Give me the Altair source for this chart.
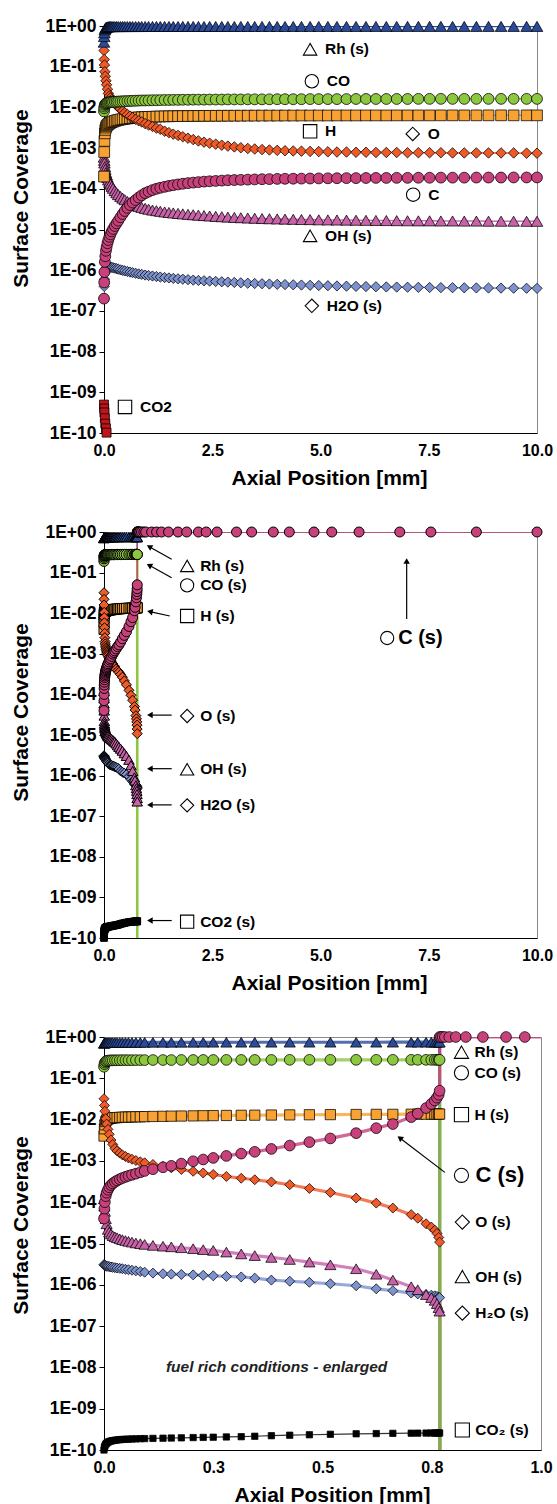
import altair as alt
import pandas as pd

FONT = "Liberation Sans"

# ------------------------------------------------------------------
# Panel 1 : axial profiles, x in mm, surface coverages
# ------------------------------------------------------------------
x1 = [0, 0.005, 0.01, 0.02, 0.03, 0.045, 0.06, 0.08, 0.1, 0.125,
      0.15, 0.18, 0.21, 0.25, 0.29, 0.33, 0.38, 0.43, 0.48, 0.54,
      0.6, 0.66, 0.73, 0.8, 0.87, 0.95, 1.03, 1.12, 1.21, 1.3,
      1.4, 1.5, 1.6, 1.71, 1.82, 1.94, 2.06, 2.18, 2.31, 2.44,
      2.58, 2.72, 2.86, 3.01, 3.16, 3.32, 3.48, 3.65, 3.82, 4.0,
      4.18, 4.37, 4.56, 4.76, 4.96, 5.17, 5.38, 5.6, 5.82, 6.05,
      6.28, 6.52, 6.76, 7.01, 7.26, 7.52, 7.78, 8.05, 8.32, 8.6,
      8.88, 9.17, 9.46, 9.76, 10.0]

rh1 = [0.40, 0.55, 0.68, 0.80, 0.87, 0.91, 0.935, 0.95, 0.96, 0.965,
       0.967, 0.968, 0.968, 0.969, 0.969, 0.970, 0.970, 0.970, 0.971, 0.971,
       0.971, 0.972, 0.972, 0.972, 0.972, 0.973, 0.973, 0.973, 0.973, 0.973,
       0.974, 0.974, 0.974, 0.974, 0.974, 0.974, 0.975, 0.975, 0.975, 0.975,
       0.975, 0.975, 0.975, 0.976, 0.976, 0.976, 0.976, 0.976, 0.976, 0.976,
       0.976, 0.976, 0.977, 0.977, 0.977, 0.977, 0.977, 0.977, 0.977, 0.977,
       0.977, 0.977, 0.977, 0.978, 0.978, 0.978, 0.978, 0.978, 0.978, 0.978,
       0.978, 0.978, 0.978, 0.978, 0.978]

co1 = [8.0e-3, 9.5e-3, 1.05e-2, 1.15e-2, 1.2e-2, 1.25e-2, 1.28e-2, 1.3e-2, 1.32e-2, 1.33e-2,
       1.34e-2, 1.35e-2, 1.36e-2, 1.37e-2, 1.38e-2, 1.39e-2, 1.40e-2, 1.41e-2, 1.42e-2, 1.43e-2,
       1.44e-2, 1.45e-2, 1.46e-2, 1.47e-2, 1.48e-2, 1.48e-2, 1.49e-2, 1.50e-2, 1.50e-2, 1.51e-2,
       1.52e-2, 1.52e-2, 1.53e-2, 1.53e-2, 1.54e-2, 1.54e-2, 1.55e-2, 1.55e-2, 1.55e-2, 1.56e-2,
       1.56e-2, 1.56e-2, 1.57e-2, 1.57e-2, 1.57e-2, 1.58e-2, 1.58e-2, 1.58e-2, 1.58e-2, 1.59e-2,
       1.59e-2, 1.59e-2, 1.59e-2, 1.60e-2, 1.60e-2, 1.60e-2, 1.60e-2, 1.60e-2, 1.61e-2, 1.61e-2,
       1.61e-2, 1.61e-2, 1.61e-2, 1.61e-2, 1.62e-2, 1.62e-2, 1.62e-2, 1.62e-2, 1.62e-2, 1.62e-2,
       1.62e-2, 1.62e-2, 1.62e-2, 1.62e-2, 1.62e-2]

h1 = [2.0e-4, 8.0e-4, 1.5e-3, 2.3e-3, 2.8e-3, 3.2e-3, 3.5e-3, 3.7e-3, 3.9e-3, 4.05e-3,
      4.2e-3, 4.35e-3, 4.5e-3, 4.65e-3, 4.8e-3, 4.9e-3, 5.05e-3, 5.15e-3, 5.25e-3, 5.35e-3,
      5.45e-3, 5.55e-3, 5.62e-3, 5.68e-3, 5.74e-3, 5.8e-3, 5.85e-3, 5.9e-3, 5.94e-3, 5.98e-3,
      6.02e-3, 6.05e-3, 6.08e-3, 6.1e-3, 6.12e-3, 6.14e-3, 6.16e-3, 6.18e-3, 6.2e-3, 6.21e-3,
      6.22e-3, 6.23e-3, 6.24e-3, 6.25e-3, 6.26e-3, 6.27e-3, 6.28e-3, 6.29e-3, 6.3e-3, 6.3e-3,
      6.31e-3, 6.31e-3, 6.32e-3, 6.32e-3, 6.33e-3, 6.33e-3, 6.34e-3, 6.34e-3, 6.34e-3, 6.35e-3,
      6.35e-3, 6.35e-3, 6.36e-3, 6.36e-3, 6.36e-3, 6.36e-3, 6.37e-3, 6.37e-3, 6.37e-3, 6.37e-3,
      6.38e-3, 6.38e-3, 6.38e-3, 6.38e-3, 6.38e-3]

o1 = [0.25, 0.15, 0.11, 0.075, 0.058, 0.045, 0.036, 0.028, 0.022, 0.019,
      0.017, 0.0155, 0.014, 0.0125, 0.0112, 0.0101, 0.0091, 0.0082, 0.0074, 0.0067,
      0.0061, 0.0056, 0.0051, 0.0047, 0.0044, 0.0040, 0.0037, 0.0034, 0.0031, 0.0029,
      0.0026, 0.0024, 0.0022, 0.00205, 0.0019, 0.00175, 0.00162, 0.0015, 0.0014, 0.00132,
      0.00125, 0.00118, 0.00112, 0.00107, 0.00102, 0.00098, 0.00095, 0.00092, 0.0009, 0.00088,
      0.00086, 0.00085, 0.00084, 0.00083, 0.00082, 0.00081, 0.0008, 0.0008, 0.00079, 0.00079,
      0.00078, 0.00078, 0.00078, 0.00077, 0.00077, 0.00077, 0.00077, 0.00076, 0.00076, 0.00076,
      0.00076, 0.00076, 0.00076, 0.00075, 0.00075]

c1 = [2e-7, 5e-7, 9e-7, 1.6e-6, 2.2e-6, 3.0e-6, 3.7e-6, 4.6e-6, 5.5e-6, 6.6e-6,
      7.6e-6, 9.0e-6, 1.03e-5, 1.22e-5, 1.42e-5, 1.65e-5, 2.0e-5, 2.4e-5, 2.85e-5, 3.4e-5,
      4.0e-5, 4.6e-5, 5.3e-5, 6.1e-5, 6.9e-5, 7.8e-5, 8.5e-5, 9.3e-5, 1.0e-4, 1.06e-4,
      1.12e-4, 1.18e-4, 1.23e-4, 1.28e-4, 1.33e-4, 1.38e-4, 1.42e-4, 1.46e-4, 1.5e-4, 1.53e-4,
      1.56e-4, 1.59e-4, 1.62e-4, 1.64e-4, 1.66e-4, 1.68e-4, 1.7e-4, 1.72e-4, 1.73e-4, 1.75e-4,
      1.76e-4, 1.77e-4, 1.78e-4, 1.79e-4, 1.8e-4, 1.81e-4, 1.82e-4, 1.83e-4, 1.83e-4, 1.84e-4,
      1.85e-4, 1.85e-4, 1.86e-4, 1.86e-4, 1.87e-4, 1.87e-4, 1.88e-4, 1.88e-4, 1.88e-4, 1.89e-4,
      1.89e-4, 1.89e-4, 1.9e-4, 1.9e-4, 1.9e-4]

oh1 = [6e-4, 5e-4, 4.3e-4, 3.5e-4, 3e-4, 2.5e-4, 2.2e-4, 1.9e-4, 1.65e-4, 1.45e-4,
       1.3e-4, 1.15e-4, 1.03e-4, 9e-5, 8e-5, 7.2e-5, 6.5e-5, 5.9e-5, 5.4e-5, 4.9e-5,
       4.5e-5, 4.2e-5, 3.9e-5, 3.7e-5, 3.5e-5, 3.3e-5, 3.15e-5, 3.0e-5, 2.9e-5, 2.8e-5,
       2.7e-5, 2.62e-5, 2.55e-5, 2.48e-5, 2.42e-5, 2.36e-5, 2.3e-5, 2.25e-5, 2.2e-5, 2.15e-5,
       2.1e-5, 2.06e-5, 2.02e-5, 1.98e-5, 1.95e-5, 1.92e-5, 1.89e-5, 1.86e-5, 1.84e-5, 1.82e-5,
       1.8e-5, 1.78e-5, 1.76e-5, 1.75e-5, 1.73e-5, 1.72e-5, 1.71e-5, 1.7e-5, 1.69e-5, 1.68e-5,
       1.67e-5, 1.66e-5, 1.65e-5, 1.64e-5, 1.63e-5, 1.63e-5, 1.62e-5, 1.62e-5, 1.61e-5, 1.61e-5,
       1.6e-5, 1.6e-5, 1.6e-5, 1.59e-5, 1.59e-5]

h2o1 = [2e-7, 4e-7, 6e-7, 8.5e-7, 1.0e-6, 1.1e-6, 1.15e-6, 1.18e-6, 1.2e-6, 1.2e-6,
        1.19e-6, 1.17e-6, 1.15e-6, 1.12e-6, 1.09e-6, 1.06e-6, 1.02e-6, 9.9e-7, 9.6e-7, 9.3e-7,
        9.0e-7, 8.7e-7, 8.4e-7, 8.1e-7, 7.9e-7, 7.6e-7, 7.4e-7, 7.2e-7, 7.0e-7, 6.8e-7,
        6.6e-7, 6.45e-7, 6.3e-7, 6.15e-7, 6.0e-7, 5.85e-7, 5.7e-7, 5.6e-7, 5.5e-7, 5.4e-7,
        5.3e-7, 5.2e-7, 5.1e-7, 5.0e-7, 4.9e-7, 4.8e-7, 4.72e-7, 4.65e-7, 4.58e-7, 4.5e-7,
        4.44e-7, 4.38e-7, 4.32e-7, 4.26e-7, 4.2e-7, 4.15e-7, 4.1e-7, 4.05e-7, 4.0e-7, 3.96e-7,
        3.92e-7, 3.88e-7, 3.85e-7, 3.82e-7, 3.79e-7, 3.76e-7, 3.73e-7, 3.71e-7, 3.69e-7, 3.67e-7,
        3.65e-7, 3.63e-7, 3.61e-7, 3.6e-7, 3.58e-7]

co2_1_x = [0, 0.005, 0.01, 0.02, 0.03, 0.045, 0.06, 0.08]
co2_1 = [5e-10, 4e-10, 3.2e-10, 2.3e-10, 1.7e-10, 1.3e-10, 1.02e-10, 7e-11]

# ------------------------------------------------------------------
# Panels 2 and 3 : fuel rich conditions (same data, two x ranges)
# ------------------------------------------------------------------
x3 = [0, 0.001, 0.002, 0.004, 0.006, 0.009, 0.012, 0.016, 0.02, 0.025,
      0.03, 0.036, 0.042, 0.049, 0.056, 0.064, 0.073, 0.083, 0.093, 0.112,
      0.135, 0.154, 0.177, 0.204, 0.227, 0.25, 0.28, 0.314, 0.345, 0.383,
      0.425, 0.47, 0.518, 0.577, 0.623, 0.661, 0.703, 0.718, 0.737, 0.749,
      0.757, 0.762, 0.766, 0.768]

rh3 = [0.70, 0.71, 0.72, 0.725, 0.728, 0.73, 0.732, 0.733, 0.734, 0.735,
       0.736, 0.737, 0.738, 0.739, 0.74, 0.74, 0.741, 0.741, 0.742, 0.742,
       0.743, 0.743, 0.744, 0.744, 0.745, 0.745, 0.745, 0.746, 0.746, 0.746,
       0.747, 0.747, 0.747, 0.747, 0.747, 0.748, 0.748, 0.748, 0.748, 0.748,
       0.748, 0.748, 0.748, 0.748]

co3 = [0.19, 0.22, 0.24, 0.255, 0.262, 0.267, 0.27, 0.271, 0.272, 0.273,
       0.273, 0.274, 0.274, 0.275, 0.275, 0.275, 0.276, 0.276, 0.276, 0.277,
       0.277, 0.277, 0.278, 0.278, 0.278, 0.278, 0.279, 0.279, 0.279, 0.279,
       0.28, 0.28, 0.28, 0.28, 0.28, 0.28, 0.28, 0.28, 0.28, 0.28,
       0.28, 0.28, 0.28, 0.28]

h3 = [4.0e-3, 6.0e-3, 7.5e-3, 9.0e-3, 9.8e-3, 1.03e-2, 1.06e-2, 1.08e-2, 1.10e-2, 1.11e-2,
      1.12e-2, 1.13e-2, 1.14e-2, 1.15e-2, 1.15e-2, 1.16e-2, 1.17e-2, 1.17e-2, 1.18e-2, 1.19e-2,
      1.20e-2, 1.21e-2, 1.22e-2, 1.23e-2, 1.24e-2, 1.25e-2, 1.26e-2, 1.27e-2, 1.28e-2, 1.29e-2,
      1.30e-2, 1.31e-2, 1.32e-2, 1.33e-2, 1.34e-2, 1.34e-2, 1.35e-2, 1.35e-2, 1.35e-2, 1.36e-2,
      1.36e-2, 1.36e-2, 1.36e-2, 1.36e-2]

o3 = [3.2e-2, 2.2e-2, 1.6e-2, 1.05e-2, 7.8e-3, 5.8e-3, 4.4e-3, 3.2e-3, 2.5e-3, 2.0e-3,
      1.75e-3, 1.55e-3, 1.4e-3, 1.28e-3, 1.18e-3, 1.1e-3, 1.02e-3, 9.5e-4, 9.0e-4, 8.2e-4,
      7.4e-4, 6.8e-4, 6.2e-4, 5.6e-4, 5.1e-4, 4.7e-4, 4.2e-4, 3.8e-4, 3.5e-4, 3.1e-4,
      2.65e-4, 2.15e-4, 1.72e-4, 1.26e-4, 9.5e-5, 7.2e-5, 5.0e-5, 4.1e-5, 3.0e-5, 2.5e-5,
      2.1e-5, 1.75e-5, 1.4e-5, 1.08e-5]

c3 = [4.0e-5, 7.0e-5, 1.0e-4, 1.4e-4, 1.7e-4, 2.0e-4, 2.3e-4, 2.6e-4, 2.85e-4, 3.1e-4,
      3.35e-4, 3.6e-4, 3.85e-4, 4.1e-4, 4.35e-4, 4.6e-4, 4.9e-4, 5.3e-4, 5.7e-4, 6.3e-4,
      7.0e-4, 7.6e-4, 8.6e-4, 9.8e-4, 1.08e-3, 1.18e-3, 1.32e-3, 1.5e-3, 1.66e-3, 1.95e-3,
      2.35e-3, 2.85e-3, 3.5e-3, 4.7e-3, 6.2e-3, 7.8e-3, 1.15e-2, 1.4e-2, 1.9e-2, 2.4e-2,
      2.9e-2, 3.4e-2, 4.0e-2, 5.0e-2]

# carbon covers the whole surface after the ignition point
c_post_x = [0.768, 0.771, 0.775, 0.78, 0.79, 0.805, 0.828, 0.867, 0.92, 0.963,
            1.1, 1.215, 1.33, 1.49, 1.71, 1.91, 2.18, 2.36, 2.61, 3.06,
            3.41, 3.91, 4.28, 4.85, 5.26, 5.89, 6.83, 7.55, 8.6, 10.0]
c_post = [1.0, 1.0, 1.0, 1.0, 1.0, 1.0, 1.0, 1.0, 1.0, 1.0,
          1.0, 1.0, 1.0, 1.0, 1.0, 1.0, 1.0, 1.0, 1.0, 1.0,
          1.0, 1.0, 1.0, 1.0, 1.0, 1.0, 1.0, 1.0, 1.0, 1.0]

oh3 = [1.2e-4, 8.0e-5, 6.0e-5, 4.0e-5, 3.0e-5, 2.2e-5, 1.9e-5, 1.7e-5, 1.55e-5, 1.45e-5,
       1.38e-5, 1.3e-5, 1.24e-5, 1.18e-5, 1.13e-5, 1.08e-5, 1.03e-5, 9.9e-6, 9.5e-6, 9.0e-6,
       8.6e-6, 8.3e-6, 7.9e-6, 7.5e-6, 7.1e-6, 6.8e-6, 6.2e-6, 5.6e-6, 5.1e-6, 4.6e-6,
       4.1e-6, 3.55e-6, 3.05e-6, 2.45e-6, 1.8e-6, 1.3e-6, 9.0e-7, 7.6e-7, 5.8e-7, 4.9e-7,
       4.2e-7, 3.5e-7, 2.8e-7, 2.3e-7]

h2o3 = [3.1e-6, 3.0e-6, 2.95e-6, 2.9e-6, 2.85e-6, 2.8e-6, 2.75e-6, 2.7e-6, 2.65e-6, 2.6e-6,
        2.55e-6, 2.5e-6, 2.45e-6, 2.38e-6, 2.32e-6, 2.25e-6, 2.18e-6, 2.1e-6, 2.02e-6, 1.92e-6,
        1.85e-6, 1.81e-6, 1.78e-6, 1.74e-6, 1.7e-6, 1.65e-6, 1.6e-6, 1.55e-6, 1.45e-6, 1.3e-6,
        1.22e-6, 1.15e-6, 1.06e-6, 9.5e-7, 8.0e-7, 7.2e-7, 6.3e-7, 6.0e-7, 5.8e-7, 5.6e-7,
        5.4e-7, 5.2e-7, 5.0e-7, 4.9e-7]

co2_3 = [1.0e-10, 1.15e-10, 1.25e-10, 1.38e-10, 1.46e-10, 1.54e-10, 1.6e-10, 1.65e-10, 1.69e-10, 1.72e-10,
         1.75e-10, 1.78e-10, 1.8e-10, 1.82e-10, 1.83e-10, 1.85e-10, 1.86e-10, 1.88e-10, 1.89e-10, 1.91e-10,
         1.93e-10, 1.95e-10, 1.97e-10, 2.0e-10, 2.02e-10, 2.04e-10, 2.07e-10, 2.1e-10, 2.15e-10, 2.22e-10,
         2.28e-10, 2.34e-10, 2.4e-10, 2.47e-10, 2.5e-10, 2.53e-10, 2.55e-10, 2.56e-10, 2.57e-10, 2.58e-10,
         2.58e-10, 2.58e-10, 2.58e-10, 2.58e-10]

# coverage of the other species after the jump (zero, below the axis floor)
DROP_X = 0.768
DROP_Y = 1e-12

# ------------------------------------------------------------------
# Annotations (positions in data units)
# ------------------------------------------------------------------
ann1_sp = ["Rh", "CO", "H", "O", "C", "OH", "H2O", "CO2"]
ann1_label = ["Rh (s)", "CO", "H", "O", "C", "OH (s)", "H2O (s)", "CO2"]
ann1_x = [4.76, 4.80, 4.76, 7.13, 7.14, 4.76, 4.80, 0.485]
ann1_y = [0.268, 0.0439, 2.58e-3, 2.23e-3, 7.16e-5, 7.0e-6, 1.33e-7, 4.37e-10]

ann2_sp = ["Rh", "CO", "H", "C", "O", "OH", "H2O", "CO2"]
ann2_label = ["Rh (s)", "CO (s)", "H (s)", "C (s)", "O (s)", "OH (s)", "H2O (s)", "CO2 (s)"]
ann2_x = [1.92, 1.92, 1.92, 6.54, 1.92, 1.92, 1.92, 1.92]
ann2_y = [0.146, 0.0486, 8.53e-3, 2.45e-3, 2.94e-5, 1.43e-6, 1.85e-7, 2.52e-10]
ann2_big = [False, False, False, True, False, False, False, False]

arr2_tx = [1.563, 1.563, 1.52, 1.563, 1.563, 1.563, 1.563, 6.99]
arr2_ty = [0.213, 0.0748, 8.53e-3, 3.09e-5, 1.48e-6, 1.9e-7, 2.69e-10, 7.19e-3]
arr2_hx = [1.045, 1.045, 1.06, 1.06, 1.06, 1.06, 1.06, 6.99]
arr2_hy = [0.435, 0.151, 0.0109, 3.09e-5, 1.48e-6, 1.9e-7, 2.69e-10, 0.193]
arr2_ang = [299, 299, 282, 270, 270, 270, 270, 0]

ann3_sp = ["Rh", "CO", "H", "C", "O", "OH", "H2O", "CO2"]
ann3_label = ["Rh (s)", "CO (s)", "H (s)", "C (s)", "O (s)", "OH (s)", "H\u2082O (s)", "CO\u2082 (s)"]
ann3_x = [0.818, 0.818, 0.818, 0.818, 0.82, 0.82, 0.82, 0.82]
ann3_y = [0.428, 0.1355, 0.0132, 4.47e-4, 3.31e-5, 1.58e-6, 2.06e-7, 3.05e-10]
ann3_big = [False, False, False, True, False, False, False, False]

arr3_tx = [0.78]
arr3_ty = [5.27e-4]
arr3_hx = [0.677]
arr3_hy = [3.6e-3]
arr3_ang = [307]

note3_text = ["fuel rich conditions - enlarged"]
note3_x = [0.395]
note3_y = [1e-8]

Y_TICKS = [1e-10, 1e-9, 1e-8, 1e-7, 1e-6, 1e-5, 1e-4, 1e-3, 1e-2, 1e-1, 1]

# ------------------------------------------------------------------
# Styles
# ------------------------------------------------------------------
COLORS = {"Rh": "#2B4A9A", "CO": "#8DC63F", "H": "#F7A233", "O": "#EF5A29",
          "C": "#C8417B", "OH": "#C862A9", "H2O": "#7D92CE", "CO2": "#000000"}
CO2_COLOR_P1 = "#C0141B"
SHAPES = {"Rh": "triangle-up", "CO": "circle", "H": "square", "O": "diamond",
          "C": "circle", "OH": "triangle-up", "H2O": "diamond", "CO2": "square"}
SIZES1 = {"Rh": 135, "CO": 118, "H": 115, "O": 110, "C": 118, "OH": 135, "H2O": 105, "CO2": 80}
SIZES2 = {"Rh": 110, "CO": 105, "H": 100, "O": 100, "C": 100, "OH": 110, "H2O": 95, "CO2": 45}
SIZES3 = {"Rh": 125, "CO": 115, "H": 105, "O": 100, "C": 115, "OH": 125, "H2O": 100, "CO2": 40}
DRAW_ORDER = ["CO2", "H2O", "OH", "H", "O", "CO", "Rh", "C"]


def rows(sp, xs, ys):
    assert len(xs) == len(ys), (sp, len(xs), len(ys))
    return [dict(sp=sp, x=a, y=b, i=k) for k, (a, b) in enumerate(zip(xs, ys))]


def styled(df, sizes, colors, lw, co2_lw, co_lw=None):
    df = df.copy()
    df["col"] = df["sp"].map(colors)
    df["shp"] = df["sp"].map(SHAPES)
    df["sz"] = df["sp"].map(sizes)
    widths = {"CO2": co2_lw, "CO": co_lw if co_lw is not None else lw}
    df["lw"] = [widths.get(s, lw) for s in df["sp"]]
    df["rank"] = df["sp"].map({s: k for k, s in enumerate(DRAW_ORDER)})
    return df.sort_values(["rank", "i"], kind="stable").reset_index(drop=True)


# panel 1 tables
p1_series = {"Rh": rh1, "CO": co1, "H": h1, "O": o1, "C": c1, "OH": oh1, "H2O": h2o1}
r1 = []
for s, v in p1_series.items():
    r1 += rows(s, x1, v)
r1 += rows("CO2", co2_1_x, co2_1)
df1 = pd.DataFrame(r1)
colors1 = dict(COLORS)
colors1["CO2"] = CO2_COLOR_P1
lines1 = styled(df1, SIZES1, colors1, 1.5, 1.2)
pts1 = styled(df1[df1.y >= 1e-10], SIZES1, colors1, 1.5, 1.2)

# panels 2/3 tables
p3_series = {"Rh": rh3, "CO": co3, "H": h3, "O": o3, "OH": oh3, "H2O": h2o3, "CO2": co2_3}
rl, rp = [], []
for s, v in p3_series.items():
    rl += rows(s, x3 + [DROP_X], v + [DROP_Y])
    rp += rows(s, x3, v)
rl += rows("C", x3 + c_post_x, c3 + c_post)
rp += rows("C", x3 + c_post_x, c3 + c_post)
dfl = pd.DataFrame(rl)
dfp = pd.DataFrame(rp)


def ann_df(sp, label, xs, ys, big=None):
    d = pd.DataFrame(dict(sp=sp, label=label, x=xs, y=ys))
    d["shp"] = d["sp"].map(SHAPES)
    d["big"] = big if big is not None else [False] * len(sp)
    return d


def arr_df(tx, ty, hx, hy, ang):
    return pd.DataFrame(dict(tx=tx, ty=ty, x=hx, y=hy, ang=ang))


LABEL_EXPR = ("'1E' + (round(log(datum.value)/LN10) < 0 ? '-' : '+') + "
              "(abs(round(log(datum.value)/LN10)) < 10 ? '0' : '') + "
              "abs(round(log(datum.value)/LN10))")


def make_panel(lines, pts, ann, arrows, note, xdom, xticks, w, h, lw_op, mk_sw,
               sym_size, fs, fs_big, dx, dx_big, title_y, title_x):
    X = alt.X("x:Q", scale=alt.Scale(domain=xdom, nice=False, zero=False),
              axis=alt.Axis(values=xticks, format=".1f", title="Axial Position [mm]",
                            grid=False, ticks=False, labelFlush=False, labelFontSize=16,
                            titleFontSize=21, labelPadding=9, titlePadding=9,
                            titleX=title_x))
    Y = alt.Y("y:Q", scale=alt.Scale(type="log", domain=[1e-10, 1], nice=False),
              axis=alt.Axis(values=Y_TICKS, labelExpr=LABEL_EXPR, title="Surface Coverage",
                            grid=False, tickSize=5, labelFontSize=17.5, titleFontSize=21,
                            labelPadding=3, titlePadding=13, labelOverlap=False,
                            titleY=title_y))
    layers = []
    other = lines[~lines.sp.isin(["CO", "C"])]
    layers.append(alt.Chart(other).mark_line(clip=True, opacity=lw_op).encode(
        x=X, y=Y, color=alt.Color("col:N", scale=None), detail="sp:N",
        strokeWidth=alt.StrokeWidth("lw:Q", scale=None), order="i:Q"))
    for s in ["CO", "C"]:
        layers.append(alt.Chart(lines[lines.sp == s]).mark_line(clip=True, opacity=lw_op).encode(
            x=X, y=Y, color=alt.Color("col:N", scale=None),
            strokeWidth=alt.StrokeWidth("lw:Q", scale=None), order="i:Q"))
    layers.append(alt.Chart(pts).mark_point(filled=True, stroke="black", strokeWidth=mk_sw,
                                            opacity=1).encode(
        x=X, y=Y, color=alt.Color("col:N", scale=None),
        shape=alt.Shape("shp:N", scale=None), size=alt.Size("sz:Q", scale=None)))
    if arrows is not None:
        layers.append(alt.Chart(arrows).mark_rule(color="black", strokeWidth=1.2).encode(
            x=X, y=Y, x2="tx:Q", y2="ty:Q"))
        layers.append(alt.Chart(arrows).mark_point(shape="triangle-up", filled=True,
                                                   color="black", size=42, opacity=1).encode(
            x=X, y=Y, angle=alt.Angle("ang:Q", scale=None)))
    layers.append(alt.Chart(ann).mark_point(filled=False, color="black", strokeWidth=1.1,
                                            size=sym_size, opacity=1).encode(
        x=X, y=Y, shape=alt.Shape("shp:N", scale=None)))
    layers.append(alt.Chart(ann[~ann.big]).mark_text(
        align="left", baseline="middle", dx=dx, font=FONT, fontWeight="bold",
        fontSize=fs, color="black").encode(x=X, y=Y, text="label:N"))
    if ann.big.any():
        layers.append(alt.Chart(ann[ann.big]).mark_text(
            align="left", baseline="middle", dx=dx_big, font=FONT, fontWeight="bold",
            fontSize=fs_big, color="black").encode(x=X, y=Y, text="label:N"))
    if note is not None:
        layers.append(alt.Chart(note).mark_text(
            align="center", baseline="middle", font=FONT, fontWeight="bold",
            fontStyle="italic", fontSize=15.5, color="#222222").encode(x=X, y=Y, text="t:N"))
    return alt.layer(*layers).properties(width=w, height=h)


lines2 = styled(dfl, SIZES2, COLORS, 1.3, 0.8, co_lw=2.6)
pts2 = styled(dfp[(dfp.y >= 1e-10) & (dfp.x <= 10)], SIZES2, COLORS, 1.3, 0.8)
lines3 = styled(dfl, SIZES3, COLORS, 3.2, 1.2)
pts3 = styled(dfp[(dfp.y >= 1e-10) & (dfp.x <= 1)], SIZES3, COLORS, 3.2, 1.2)

p1 = make_panel(lines1, pts1, ann_df(ann1_sp, ann1_label, ann1_x, ann1_y), None, None,
                [0, 10], [0, 2.5, 5, 7.5, 10], 433, 407, 0.95, 0.75, 180, 15.5, 20, 15, 15,
                172, 225)
p2 = make_panel(lines2, pts2, ann_df(ann2_sp, ann2_label, ann2_x, ann2_y, ann2_big),
                arr_df(arr2_tx, arr2_ty, arr2_hx, arr2_hy, arr2_ang), None,
                [0, 10], [0, 2.5, 5, 7.5, 10], 433, 406, 1.0, 1.0, 175, 15.5, 20, 13, 11,
                180, 225)
p3 = make_panel(lines3, pts3, ann_df(ann3_sp, ann3_label, ann3_x, ann3_y, ann3_big),
                arr_df(arr3_tx, arr3_ty, arr3_hx, arr3_hy, arr3_ang),
                pd.DataFrame(dict(t=note3_text, x=note3_x, y=note3_y)),
                [0, 1], [0, 0.25, 0.5, 0.75, 1.0], 437, 413, 0.8, 0.75, 200, 15.5, 22, 13, 14,
                188, 228)

chart = alt.vconcat(p1, p2, p3, spacing=99, bounds="flush").properties(
    padding={"left": 10, "top": 16, "right": 2, "bottom": 0},
    background="white",
).configure_view(stroke="#8a8a8a", strokeWidth=1).configure_axis(
    labelFont=FONT, titleFont=FONT, labelFontWeight="bold", titleFontWeight="bold",
    labelColor="black", titleColor="black", domainColor="black", tickColor="black",
    domainWidth=1, tickWidth=1)

chart.save("out.html", embed_options={"renderer": "svg", "actions": False})
